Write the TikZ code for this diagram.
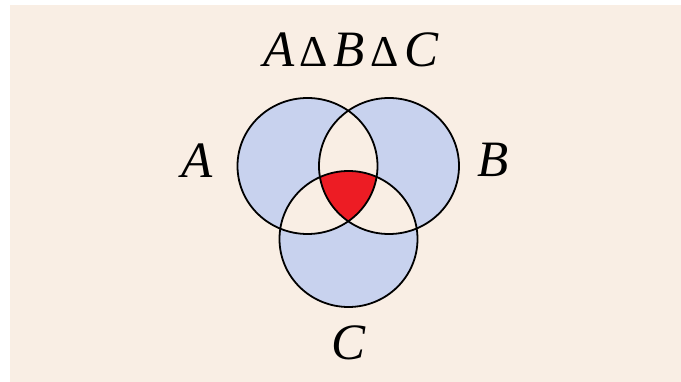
\documentclass[tikz,border=0pt]{standalone}
\usepackage{fontspec}
\setmainfont{Liberation Serif}
\definecolor{bg}{HTML}{F9EEE4}
\definecolor{setblue}{HTML}{C8D2EE}
\definecolor{setred}{HTML}{ED1C24}
\tikzset{
  lbl/.style={inner sep=0pt, anchor=base, font=\fontsize{51}{60}\selectfont\itshape},
  setline/.style={draw=black, line width=1.8pt}
}
\newcommand{\dlt}{{\upshape\fontsize{44}{50}\selectfont\kern5pt Δ\kern6pt}}
\begin{document}
\begin{tikzpicture}[x=1pt,y=-1pt]
\useasboundingbox (0,0) rectangle (681,382);
\fill[white] (0,0) rectangle (681,382);
\fill[bg] (10,5) rectangle (681,382);
\def\pathA{(307.5,166) ellipse [x radius=70, y radius=68]}
\def\pathB{(389,166) ellipse [x radius=70, y radius=68]}
\def\pathC{(348.5,239) ellipse [x radius=69, y radius=68]}
\fill[setblue, even odd rule] \pathA \pathB \pathC;
\begin{scope}
  \clip \pathA;
  \clip \pathB;
  \fill[setred] \pathC;
\end{scope}
\draw[setline] (307.5,166) ellipse [x radius=70, y radius=68];
\draw[setline] (389,166) ellipse [x radius=70, y radius=68];
\draw[setline] (348.5,239) ellipse [x radius=69, y radius=68];
\node[lbl] (title) at (351,67) {A\dlt B\dlt C};
\node[lbl] (la) at (197,178) {A};
\node[lbl] (lb) at (493,177) {B};
\node[lbl] (lc) at (349,360) {C};
\end{tikzpicture}
\end{document}
